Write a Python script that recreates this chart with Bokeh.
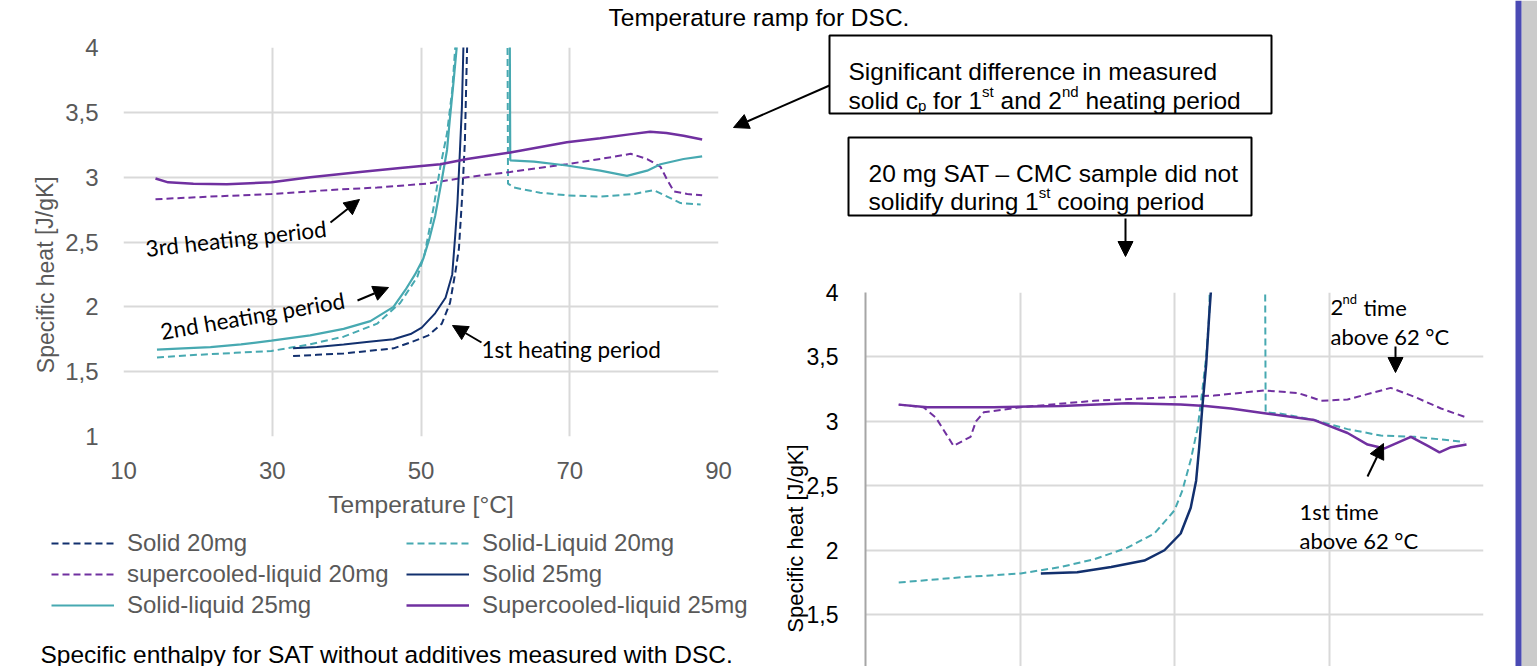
from bokeh.plotting import figure
from bokeh.models import Range1d, FixedTicker, Legend, LegendItem, Arrow, NormalHead
from bokeh.core.properties import value
from bokeh.embed import file_html
from bokeh.resources import INLINE

W, H = 1537, 666

NAVY = "#12306E"
TEAL = "#47A9B1"
PURPLE = "#7030A0"
GRID = "#D9D9D9"
GREY_TXT = "#595959"
ARIAL = "Liberation Sans"
CALIBRI = "Lato"
ABS = {"position": "absolute", "left": "0px", "top": "0px"}
DASH = "7 4"

# ---------------- data ----------------
x_ticks = [10, 30, 50, 70, 90]
y_ticks = [1, 1.5, 2, 2.5, 3, 3.5, 4]
y_tick_labels = ["1", "1,5", "2", "2,5", "3", "3,5", "4"]

# left chart: all three heating periods
solid20_x = [32.8, 36.0, 39.6, 43.0, 46.3, 48.8, 51.0, 52.8, 53.9, 54.6, 55.1, 55.5, 55.9, 56.1, 56.2, 56.3]
solid20_y = [1.62, 1.63, 1.64, 1.66, 1.68, 1.73, 1.78, 1.87, 2.03, 2.26, 2.45, 2.82, 3.27, 3.77, 4.0, 4.4]

solid25_x = [32.8, 36.0, 39.6, 43.0, 46.3, 48.6, 50.1, 51.9, 53.3, 54.2, 54.6, 54.9, 55.2, 55.5, 55.7, 55.8]
solid25_y = [1.68, 1.69, 1.71, 1.73, 1.75, 1.79, 1.84, 1.95, 2.07, 2.25, 2.55, 2.80, 3.16, 3.54, 4.0, 4.4]

sl25_x = [14.5, 18.0, 21.7, 25.8, 29.9, 35.1, 39.6, 43.2, 46.3, 47.9, 49.2, 50.3, 51.1, 51.9, 52.8, 53.5,
          53.9, 54.4, 54.8, 55.0, 61.9, 62.0, 65.2, 69.6, 74.1, 77.7, 80.4, 82.2, 85.3, 87.8]
sl25_y = [1.67, 1.68, 1.69, 1.71, 1.74, 1.78, 1.83, 1.89, 2.00, 2.13, 2.25, 2.37, 2.52, 2.70, 2.98, 3.21,
          3.46, 3.75, 4.0, 4.6, 4.6, 3.13, 3.12, 3.09, 3.05, 3.01, 3.05, 3.10, 3.14, 3.16]

sl20_x = [14.5, 20.0, 25.0, 29.9, 35.0, 39.6, 44.1, 47.2, 49.5, 50.5, 51.7, 52.6, 53.5, 54.2, 54.6, 54.8,
          61.6, 61.7, 62.5, 66.0, 69.6, 74.1, 78.6, 81.3, 83.1, 84.9, 87.6]
sl20_y = [1.61, 1.63, 1.645, 1.66, 1.71, 1.77, 1.87, 2.03, 2.23, 2.41, 2.77, 3.08, 3.34, 3.67, 4.0, 4.6,
          4.6, 2.95, 2.92, 2.88, 2.86, 2.85, 2.87, 2.90, 2.85, 2.80, 2.79]

sc25_x = [14.3, 16.0, 19.4, 23.9, 29.9, 35.1, 41.8, 47.2, 52.6, 56.2, 62.0, 69.6, 74.1, 78.0, 80.8, 83.0, 85.3, 87.8]
sc25_y = [2.99, 2.96, 2.95, 2.945, 2.96, 3.00, 3.04, 3.07, 3.10, 3.14, 3.19, 3.27, 3.30, 3.33, 3.35, 3.34, 3.32, 3.29]

sc20_x = [14.3, 21.7, 29.9, 37.4, 44.1, 50.8, 56.2, 62.0, 69.6, 74.1, 78.2, 80.4, 82.2, 83.1, 84.0, 85.8, 87.8]
sc20_y = [2.83, 2.85, 2.87, 2.90, 2.92, 2.95, 3.00, 3.04, 3.10, 3.14, 3.18, 3.14, 3.08, 2.98, 2.89, 2.87, 2.86]

# right chart: SAT - CMC sample
r_solid_x = [32.7, 37.4, 41.8, 46.1, 48.7, 50.8, 52.1, 52.8, 53.2, 53.6, 54.1, 54.5, 54.7, 54.8]
r_solid_y = [1.82, 1.83, 1.87, 1.92, 2.00, 2.13, 2.33, 2.54, 2.80, 3.11, 3.44, 3.83, 4.0, 4.4]

r_sl_x = [14.3, 22.3, 30.1, 35.3, 39.6, 43.9, 47.4, 50.0, 51.0, 52.1, 53.0, 53.6, 54.1, 54.5, 54.7,
          61.7, 61.8, 63.8, 68.1, 72.4, 76.7, 81.1, 84.5, 87.5]
r_sl_y = [1.75, 1.79, 1.82, 1.87, 1.93, 2.02, 2.13, 2.31, 2.46, 2.70, 2.95, 3.24, 3.50, 3.83, 4.6,
          4.6, 3.07, 3.06, 3.01, 2.94, 2.89, 2.88, 2.86, 2.84]

r_sc1_x = [14.3, 18.0, 26.6, 35.3, 43.9, 50.8, 54.0, 57.3, 62.1, 68.1, 72.4, 75.0, 77.2, 80.6, 82.8, 84.3, 85.8, 87.8]
r_sc1_y = [3.13, 3.11, 3.11, 3.12, 3.14, 3.13, 3.12, 3.10, 3.06, 3.01, 2.91, 2.82, 2.79, 2.88, 2.81, 2.76, 2.80, 2.82]

r_sc2_x = [14.3, 17.5, 19.1, 21.4, 23.6, 24.3, 25.3, 30.1, 39.6, 50.4, 55.1, 61.6, 66.0, 69.0, 72.4, 78.0, 81.1, 84.5, 87.8]
r_sc2_y = [3.13, 3.11, 3.03, 2.81, 2.88, 3.00, 3.07, 3.11, 3.16, 3.19, 3.20, 3.24, 3.22, 3.16, 3.17, 3.26, 3.19, 3.10, 3.03]

legend_labels = ["Solid 20mg", "Solid-Liquid 20mg", "supercooled-liquid 20mg",
                 "Solid 25mg", "Solid-liquid 25mg", "Supercooled-liquid 25mg"]

overrides = {t: s for t, s in zip(y_ticks, y_tick_labels)}

# series styles, in legend order
series = [
    (solid20_x, solid20_y, NAVY, 2, DASH),
    (sl20_x, sl20_y, TEAL, 2, DASH),
    (sc20_x, sc20_y, PURPLE, 2, DASH),
    (solid25_x, solid25_y, NAVY, 2, "solid"),
    (sl25_x, sl25_y, TEAL, 2.2, "solid"),
    (sc25_x, sc25_y, PURPLE, 2.5, "solid"),
]

# ---------------- left chart ----------------
pl = figure(width=W, height=H, x_range=Range1d(10, 90), y_range=Range1d(1, 4),
            output_backend="svg", toolbar_location=None,
            min_border_left=123, min_border_right=W - 718, min_border_top=47, min_border_bottom=H - 436)
pl.styles = ABS
pl.outline_line_color = None
pl.background_fill_color = "white"
pl.border_fill_color = "white"
pl.xaxis.ticker = FixedTicker(ticks=x_ticks)
pl.yaxis.ticker = FixedTicker(ticks=y_ticks)
pl.yaxis.major_label_overrides = overrides
pl.xaxis.axis_label = "Temperature [°C]"
for ax in pl.axis:
    ax.axis_line_color = None
    ax.major_tick_line_color = None
    ax.minor_tick_line_color = None
    ax.major_label_text_font = ARIAL
    ax.major_label_text_font_size = "24px"
    ax.major_label_text_color = GREY_TXT
    ax.axis_label_text_font = ARIAL
    ax.axis_label_text_font_size = "24.5px"
    ax.axis_label_text_font_style = "normal"
    ax.axis_label_text_color = GREY_TXT
pl.xaxis.major_label_standoff = 19
pl.xaxis.axis_label_standoff = 9
pl.yaxis.major_label_standoff = 19
pl.xgrid.ticker = FixedTicker(ticks=x_ticks)
pl.ygrid.ticker = FixedTicker(ticks=y_ticks)
pl.grid.grid_line_color = GRID
pl.grid.grid_line_width = 2

for xs, ys, col, lw, dash in series:
    pl.line(xs, ys, line_color=col, line_width=lw, line_dash=dash)

# ---------------- right chart ----------------
pr = figure(width=W, height=H, x_range=Range1d(10, 90), y_range=Range1d(1.098, 4),
            output_backend="svg", toolbar_location=None,
            min_border_left=865, min_border_right=W - 1483, min_border_top=292, min_border_bottom=0)
pr.styles = ABS
pr.outline_line_color = None
pr.background_fill_alpha = 0
pr.border_fill_alpha = 0
pr.xaxis.visible = False
pr.xaxis.ticker = FixedTicker(ticks=x_ticks)
pr.xgrid.ticker = FixedTicker(ticks=x_ticks)
pr.yaxis.ticker = FixedTicker(ticks=y_ticks)
pr.ygrid.ticker = FixedTicker(ticks=y_ticks)
pr.yaxis.major_label_overrides = overrides
pr.yaxis.axis_line_color = "#A6A6A6"
pr.yaxis.axis_line_width = 2
pr.yaxis.major_tick_line_color = None
pr.yaxis.minor_tick_line_color = None
pr.yaxis.major_label_text_font = ARIAL
pr.yaxis.major_label_text_font_size = "23px"
pr.yaxis.major_label_text_color = "black"
pr.yaxis.major_label_standoff = 21
pr.grid.grid_line_color = GRID
pr.grid.grid_line_width = 2

pr.line(r_sc2_x, r_sc2_y, line_color=PURPLE, line_width=2, line_dash=DASH)
pr.line(r_sl_x, r_sl_y, line_color=TEAL, line_width=2, line_dash=DASH)
pr.line(r_sc1_x, r_sc1_y, line_color=PURPLE, line_width=2.5)
pr.line(r_solid_x, r_solid_y, line_color=NAVY, line_width=2.5)

# ---------------- page overlay (annotations + legend) ----------------
pg = figure(width=W, height=H, x_range=Range1d(0, W), y_range=Range1d(H, 0),
            x_axis_location=None, y_axis_location=None, min_border=0,
            output_backend="svg", toolbar_location=None)
pg.styles = ABS
pg.outline_line_color = None
pg.background_fill_alpha = 0
pg.border_fill_alpha = 0
pg.grid.visible = False

# legend for the left chart (renderers carry the same series & styles; hidden here)
leg_renderers = []
for xs, ys, col, lw, dash in series:
    rr = pg.line(xs, ys, line_color=col, line_width=lw, line_dash=dash)
    rr.visible = False
    leg_renderers.append(rr)

items = [LegendItem(label=lab, renderers=[r]) for lab, r in zip(legend_labels, leg_renderers)]
# Bokeh fills columns first; reorder so the rows read as in the original
col_major = [items[i] for i in (0, 2, 4, 1, 3, 5)]
legend = Legend(items=col_major,
                ncols=2, location=(51, 47), padding=0, margin=0, spacing=3,
                glyph_width=63, glyph_height=28, label_height=28, label_width=276,
                label_standoff=13, border_line_color=None, background_fill_alpha=0,
                inactive_fill_alpha=0, click_policy="none",
                label_text_font=ARIAL, label_text_font_size="24px", label_text_color=GREY_TXT)
pg.add_layout(legend)

AW = {' ': 278, 'a': 556, 'b': 556, 'c': 500, 'd': 556, 'e': 556, 'f': 278, 'g': 556, 'h': 556,
      'i': 222, 'j': 222, 'k': 500, 'l': 222, 'm': 833, 'n': 556, 'o': 556, 'p': 556, 'q': 556,
      'r': 333, 's': 500, 't': 278, 'u': 556, 'v': 500, 'w': 722, 'x': 500, 'y': 500, 'z': 500}


def tw(s, size):
    return sum(AW.get(c, 556) for c in s) * size / 1000.0


def txt(x, y, s, size=24.5, font=ARIAL, color="black", align="left", baseline="alphabetic", angle=0.0):
    pg.text(x=[x], y=[y], text=[s], text_font=value(font), text_font_size=value(f"{size}px"),
            text_color=color, text_align=align, text_baseline=baseline, angle=angle)


def rich(x, y, parts, size=24.5, small=15):
    for s, kind in parts:
        fs = size if kind == "n" else small
        dy = 0 if kind == "n" else (-9 if kind == "sup" else 5)
        lead = len(s) - len(s.lstrip(" "))
        x += lead * tw(" ", fs)
        core = s.strip(" ")
        txt(x, y + dy, core, size=fs)
        x += tw(core, fs)
        x += (len(s) - lead - len(core)) * tw(" ", fs)


txt(608, 17, "Temperature ramp for DSC.")
txt(40, 654, "Specific enthalpy for SAT  without additives measured with DSC.")

txt(45, 271, "Specific heat  [J/gK]", size=23, color=GREY_TXT, align="center", baseline="middle", angle=1.5708)
txt(795, 538, "Specific heat [J/gK]", size=22, color="black", align="center", baseline="middle", angle=1.5708)

pg.quad(left=[829], right=[1271], top=[35], bottom=[113], fill_color="white", line_color="black", line_width=2)
pg.quad(left=[848], right=[1251], top=[137], bottom=[215], fill_color="white", line_color="black", line_width=2)
txt(848, 71, "Significant difference in measured")
rich(848, 100, [("solid c", "n"), ("p", "sub"), (" for 1", "n"), ("st", "sup"), (" and 2", "n"),
                ("nd", "sup"), (" heating period", "n")])
txt(868, 173, "20 mg SAT – CMC  sample did not")
rich(868, 201, [("solidify during 1", "n"), ("st", "sup"), (" cooing period", "n")])

txt(145, 248, "3rd heating period", size=22.5, font=CALIBRI, angle=0.11)
txt(160, 331, "2nd heating period", size=22.5, font=CALIBRI, angle=0.17)
txt(481, 349, "1st heating period", size=22.5, font=CALIBRI)

txt(1330, 307, "2", size=22, font=CALIBRI)
txt(1342, 298, "nd", size=13, font=CALIBRI)
txt(1363, 307, "time", size=22, font=CALIBRI)
txt(1330, 336, "above 62 °C", size=22, font=CALIBRI)
txt(1299, 511, "1st time", size=22, font=CALIBRI)
txt(1299, 540, "above 62 °C", size=22, font=CALIBRI)

arrows = [
    (829, 85, 733, 127),
    (1125, 218, 1125, 256),
    (330, 222, 359, 199),
    (357, 300, 388, 287),
    (481, 342, 452, 325),
    (1395, 346, 1395, 372),
    (1367, 476, 1383, 443),
]
for xs, ys, xe, ye in arrows:
    pg.add_layout(Arrow(x_start=xs, y_start=ys, x_end=xe, y_end=ye, line_color="black", line_width=2,
                        end=NormalHead(size=15, fill_color="black", line_color="black", line_width=1)))

pg.quad(left=[1521], right=[W], top=[0], bottom=[H], fill_color="#CBCBCB", line_color=None)
pg.quad(left=[1515], right=[1521], top=[0], bottom=[H], fill_color="#4A4AB4", line_color=None)

open("out.html", "w").write(file_html([pl, pr, pg], INLINE))
